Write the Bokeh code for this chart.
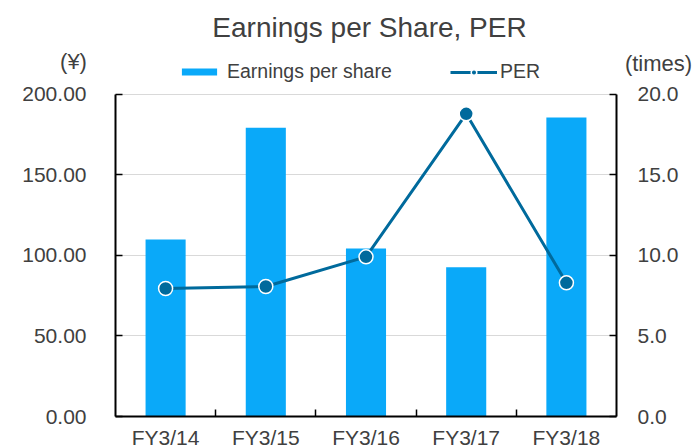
from bokeh.plotting import figure
from bokeh.models import (Range1d, LinearAxis, FixedTicker, Label, Legend, LegendItem, Grid)
from bokeh.embed import file_html
from bokeh.resources import INLINE

# ---- data ----
categories = ["FY3/14", "FY3/15", "FY3/16", "FY3/17", "FY3/18"]
eps = [109.8, 179.0, 104.2, 92.5, 185.5]
per = [7.94, 8.06, 9.90, 18.77, 8.29]
left_ticks = [0, 50, 100, 150, 200]
right_ticks = [0, 5, 10, 15, 20]

xs = list(range(1, len(categories) + 1))

FONT = "Liberation Sans"
TXT = "#404040"
BAR = "#0AA9F9"
LINE = "#006A9C"

W, H = 697, 448
# pixel box of the plotting area inside the canvas
FL, FR, FT, FB = 115, 616, 93.5, 416
x0, x1 = 0.5, len(categories) + 0.5
y0, y1 = 0, 200
r0, r1 = 0, 20
kx = (FR - FL) / (x1 - x0)
ky = (FB - FT) / (y1 - y0)
kr = (FB - FT) / (r1 - r0)

p = figure(width=W, height=H, output_backend="svg", toolbar_location=None,
           x_range=Range1d(x0 - FL / kx, x1 + (W - FR) / kx),
           y_range=Range1d(y0 - (H - FB) / ky, y1 + FT / ky),
           min_border=0, x_axis_location=None, y_axis_location=None)
p.outline_line_color = None
p.background_fill_color = "white"
p.border_fill_color = "white"
p.extra_y_ranges = {"per": Range1d(r0 - (H - FB) / kr, r1 + FT / kr)}
p.xgrid.visible = False
p.ygrid.visible = False

# grid lines
if "cross_bounds" in Grid.properties():
    g = Grid(dimension=1, ticker=FixedTicker(ticks=left_ticks), bounds=(y0, y1),
             cross_bounds=(x0, x1), grid_line_color="#D9D9D9", grid_line_width=1)
    p.add_layout(g)
else:
    p.segment(x0=[x0] * len(left_ticks), x1=[x1] * len(left_ticks),
              y0=left_ticks, y1=left_ticks, line_color="#D9D9D9", line_width=1)

# glyphs
bars = p.vbar(x=xs, top=eps, width=0.4, fill_color=BAR, line_color=None)
ln = p.line(x=xs, y=per, y_range_name="per", line_color=LINE, line_width=3)
mk = p.scatter(x=xs, y=per, y_range_name="per", size=14, fill_color=LINE,
               line_color="white", line_width=1.5)

# axes
bottom = LinearAxis(ticker=FixedTicker(ticks=xs, minor_ticks=[x + 0.5 for x in xs[:-1]]),
                    fixed_location=y0, bounds=(x0, x1))
bottom.major_label_overrides = {x: c for x, c in zip(xs, categories)}
bottom.major_tick_in = 0
bottom.major_tick_out = 0
bottom.minor_tick_in = 7
bottom.minor_tick_out = 0
bottom.minor_tick_line_color = "black"
bottom.minor_tick_line_width = 1.5
bottom.axis_line_color = "black"
bottom.axis_line_width = 2
bottom.major_label_standoff = 9
bottom.major_label_text_font = FONT
bottom.major_label_text_font_size = "21px"
bottom.major_label_text_color = TXT
p.add_layout(bottom, "below")

left = LinearAxis(ticker=FixedTicker(ticks=left_ticks), fixed_location=x0, bounds=(y0, y1))
left.major_label_overrides = {t: f"{t:.2f}" for t in left_ticks}
right = LinearAxis(y_range_name="per", ticker=FixedTicker(ticks=right_ticks),
                   fixed_location=x1, bounds=(r0, r1))
right.major_label_overrides = {t: f"{t:.1f}" for t in right_ticks}
for ax, so in ((left, 29), (right, 21)):
    ax.major_tick_in = 7
    ax.major_tick_out = 0
    ax.minor_tick_line_color = None
    ax.major_tick_line_color = "black"
    ax.major_tick_line_width = 1.5
    ax.axis_line_color = "black"
    ax.axis_line_width = 2
    ax.major_label_standoff = so
    ax.major_label_text_font = FONT
    ax.major_label_text_font_size = "21px"
    ax.major_label_text_color = TXT
p.add_layout(left, "left")
p.add_layout(right, "right")

# legends (screen px from the canvas' bottom-left)
common = dict(orientation="horizontal", padding=0, margin=0, spacing=0,
              border_line_color=None, background_fill_alpha=0,
              label_text_font=FONT, label_text_font_size="19.5px",
              label_text_color=TXT, label_height=20)
leg1 = Legend(items=[LegendItem(label="Earnings per share", renderers=[bars])],
              location=(177, H - 83), glyph_width=44, glyph_height=9,
              label_standoff=6, **common)
leg2 = Legend(items=[LegendItem(label="PER", renderers=[ln, mk])],
              location=(450, H - 83), glyph_width=47, glyph_height=14,
              label_standoff=3, **common)
p.add_layout(leg1, "center")
p.add_layout(leg2, "center")

# text labels
def lab(text, x, y, size):
    return Label(text=text, x=x, y=H - y, x_units="screen", y_units="screen",
                 text_align="center", text_baseline="middle",
                 text_font=FONT, text_font_size=size, text_color=TXT)

p.add_layout(lab("Earnings per Share, PER", 369, 27, "28px"))
p.add_layout(lab("(¥)", 73, 61, "22px"))
p.add_layout(lab("(times)", 658, 63, "22px"))

open("out.html", "w").write(file_html(p, INLINE))
